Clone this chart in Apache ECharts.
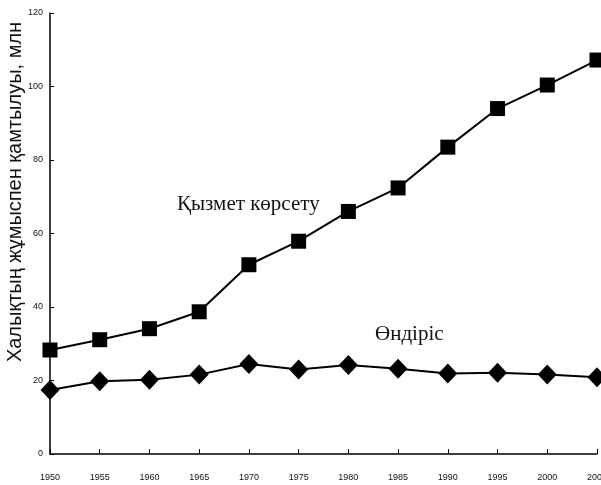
<!DOCTYPE html>
<html>
<head>
<meta charset="utf-8">
<script src="https://cdn.jsdelivr.net/npm/echarts@6/dist/echarts.min.js"></script>
<style>
  html, body { margin: 0; padding: 0; background: #fff; }
  #main { width: 601px; height: 485px; }
</style>
</head>
<body>
<div id="main"></div>
<script>
// years on the x axis
var years = ['1950', '1955', '1960', '1965', '1970', '1975', '1980', '1985', '1990', '1995', '2000', '2005'];
// employed in services, mln
var services = [28.3, 31.1, 34.1, 38.7, 51.5, 57.9, 66.0, 72.4, 83.5, 94.0, 100.4, 107.2];
// employed in industry, mln
var industry = [17.4, 19.8, 20.2, 21.6, 24.5, 23.0, 24.2, 23.2, 21.9, 22.1, 21.6, 20.9];

var chart = echarts.init(document.getElementById('main'));

var axisFont = { fontFamily: 'Liberation Sans', fontSize: 9, color: '#111' };

var option = {
  animation: false,
  grid: { left: 50, right: 4, top: 13, bottom: 31, containLabel: false, outerBoundsMode: 'none' },
  xAxis: {
    type: 'category',
    data: years,
    boundaryGap: false,
    axisLine: { show: true, lineStyle: { color: '#000', width: 1.5 } },
    axisTick: { show: true, inside: true, length: 5, alignWithLabel: true, lineStyle: { color: '#000' } },
    axisLabel: Object.assign({ margin: 19, interval: 0 }, axisFont),
    splitLine: { show: false }
  },
  yAxis: {
    type: 'value',
    min: 0,
    max: 120,
    interval: 20,
    axisLine: { show: true, lineStyle: { color: '#000', width: 1.5 } },
    axisTick: { show: true, inside: true, length: 4, lineStyle: { color: '#000' } },
    axisLabel: Object.assign({ margin: 7 }, axisFont),
    splitLine: { show: false }
  },
  graphic: [
    {
      // y axis title, rotated
      type: 'text', x: 15, y: 192, rotation: Math.PI / 2,
      style: {
        text: 'Халықтың жұмыспен қамтылуы, млн',
        fontFamily: 'Liberation Sans', fontSize: 20, fill: '#111',
        align: 'center', verticalAlign: 'middle'
      }
    },
    {
      type: 'text', left: 177, top: 194,
      style: { text: 'Қызмет көрсету', fontFamily: 'Liberation Serif', fontSize: 21, fill: '#111' }
    },
    {
      type: 'text', left: 375, top: 324,
      style: { text: 'Өндіріс', fontFamily: 'Liberation Serif', fontSize: 21, fill: '#111' }
    }
  ],
  series: [
    {
      name: 'Қызмет көрсету',
      type: 'line',
      data: services,
      symbol: 'rect',
      symbolSize: 15,
      lineStyle: { color: '#000', width: 2 },
      itemStyle: { color: '#000' }
    },
    {
      name: 'Өндіріс',
      type: 'line',
      data: industry,
      symbol: 'diamond',
      symbolSize: [19, 20],
      lineStyle: { color: '#000', width: 2 },
      itemStyle: { color: '#000' }
    }
  ]
};

chart.setOption(option);
</script>
</body>
</html>
